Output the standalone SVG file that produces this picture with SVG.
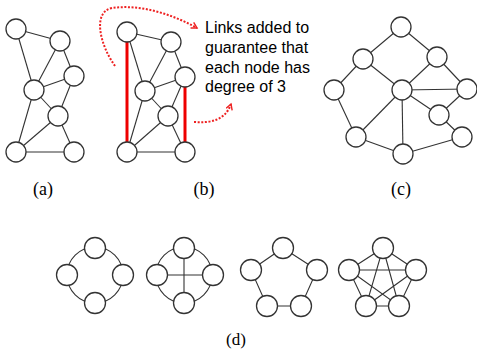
<svg xmlns="http://www.w3.org/2000/svg" width="477" height="355" viewBox="0 0 477 355">
<defs>
<style>
.e{stroke:#333;stroke-width:1.1;fill:none}
.n{fill:#fff;stroke:#333;stroke-width:1.3}
.red{stroke:#e00;stroke-width:3;fill:none}
.dot{stroke:#e22;stroke-width:2;stroke-dasharray:2 1.6;fill:none}
.lbl{font-family:"Liberation Serif","Times New Roman",serif;font-size:18px;fill:#000;text-anchor:middle}
.txt{font-family:"Liberation Sans",Arial,sans-serif;font-size:16px;fill:#000}
</style>
<marker id="ah" viewBox="0 0 10 10" refX="8" refY="5" markerWidth="8" markerHeight="8" orient="auto" markerUnits="userSpaceOnUse">
<path d="M1,1 L8,5 L1,9" fill="none" stroke="#e22" stroke-width="1.8"/>
</marker>
</defs>
<rect width="477" height="355" fill="#fff"/>

<g id="connectors">
<!-- (a) -->
<g class="e">
<line x1="16" y1="29" x2="60" y2="41"/>
<line x1="16" y1="29" x2="34" y2="90"/>
<line x1="60" y1="41" x2="34" y2="90"/>
<line x1="60" y1="41" x2="74" y2="76"/>
<line x1="74" y1="76" x2="34" y2="90"/>
<line x1="74" y1="76" x2="58" y2="116"/>
<line x1="34" y1="90" x2="58" y2="116"/>
<line x1="34" y1="90" x2="16" y2="152"/>
<line x1="58" y1="116" x2="16" y2="152"/>
<line x1="58" y1="116" x2="74" y2="152"/>
<line x1="16" y1="152" x2="74" y2="152"/>
</g>
<!-- (b) -->
<g class="e">
<line x1="127" y1="32" x2="171" y2="42"/>
<line x1="127" y1="32" x2="145" y2="91"/>
<line x1="171" y1="42" x2="145" y2="91"/>
<line x1="171" y1="42" x2="185" y2="77"/>
<line x1="185" y1="77" x2="145" y2="91"/>
<line x1="185" y1="77" x2="168" y2="116"/>
<line x1="145" y1="91" x2="168" y2="116"/>
<line x1="145" y1="91" x2="127" y2="152"/>
<line x1="168" y1="116" x2="127" y2="152"/>
<line x1="168" y1="116" x2="185" y2="152"/>
<line x1="127" y1="152" x2="185" y2="152"/>
</g>
<line class="red" x1="127" y1="32" x2="127" y2="152"/>
<line class="red" x1="185" y1="77" x2="185" y2="152"/>
<path class="dot" d="M115,66 C100,45 92,12 112,8 C140,4 172,14 197,28" marker-end="url(#ah)"/>
<path class="dot" d="M194,122 C210,123 225,121 231,104" marker-end="url(#ah)"/>
<!-- (c) -->
<g class="e">
<line x1="401" y1="27" x2="363" y2="59"/>
<line x1="401" y1="27" x2="437" y2="57"/>
<line x1="363" y1="59" x2="334" y2="90"/>
<line x1="363" y1="59" x2="402" y2="90"/>
<line x1="437" y1="57" x2="402" y2="90"/>
<line x1="437" y1="57" x2="467" y2="89"/>
<line x1="402" y1="90" x2="467" y2="89"/>
<line x1="467" y1="89" x2="439" y2="115"/>
<line x1="402" y1="90" x2="439" y2="115"/>
<line x1="439" y1="115" x2="462" y2="137"/>
<line x1="334" y1="90" x2="356" y2="137"/>
<line x1="356" y1="137" x2="402" y2="90"/>
<line x1="402" y1="90" x2="403" y2="154"/>
<line x1="356" y1="137" x2="403" y2="154"/>
<line x1="403" y1="154" x2="462" y2="137"/>
</g>
<!-- (d) -->
<g class="e">
<circle cx="95" cy="275" r="28"/>
<circle cx="184" cy="275" r="28"/>
<line x1="184" y1="248" x2="184" y2="303"/>
<line x1="157" y1="275" x2="213" y2="275"/>
<polygon points="283,248 317,270 301,306 267,306 251,270"/>
<polygon points="383,248 416,270 399,306 366,306 349,270"/>
<polygon points="383,248 399,306 349,270 416,270 366,306"/>
</g>
</g>

<g id="graph-a">
<circle class="n" cx="16" cy="29" r="10"/>
<circle class="n" cx="60" cy="41" r="10"/>
<circle class="n" cx="74" cy="76" r="10"/>
<circle class="n" cx="34" cy="90" r="10"/>
<circle class="n" cx="58" cy="116" r="10"/>
<circle class="n" cx="16" cy="152" r="10"/>
<circle class="n" cx="74" cy="152" r="10"/>
</g>
<g id="graph-b">
<circle class="n" cx="127" cy="32" r="10"/>
<circle class="n" cx="171" cy="42" r="10"/>
<circle class="n" cx="185" cy="77" r="10"/>
<circle class="n" cx="145" cy="91" r="10"/>
<circle class="n" cx="168" cy="116" r="10"/>
<circle class="n" cx="127" cy="152" r="10"/>
<circle class="n" cx="185" cy="152" r="10"/>
</g>
<g id="note">
<text class="txt" x="205" y="33">Links added to</text>
<text class="txt" x="205" y="53">guarantee that</text>
<text class="txt" x="205" y="73">each node has</text>
<text class="txt" x="205" y="92">degree of 3</text>
</g>
<g id="graph-c">
<circle class="n" cx="401" cy="27" r="10"/>
<circle class="n" cx="363" cy="59" r="10"/>
<circle class="n" cx="437" cy="57" r="10"/>
<circle class="n" cx="334" cy="90" r="10"/>
<circle class="n" cx="402" cy="90" r="10"/>
<circle class="n" cx="467" cy="89" r="10"/>
<circle class="n" cx="439" cy="115" r="10"/>
<circle class="n" cx="356" cy="137" r="10"/>
<circle class="n" cx="462" cy="137" r="10"/>
<circle class="n" cx="403" cy="154" r="10"/>
</g>
<g id="graph-d1">
<circle class="n" cx="95" cy="248" r="10.5"/>
<circle class="n" cx="67" cy="275" r="10.5"/>
<circle class="n" cx="123" cy="275" r="10.5"/>
<circle class="n" cx="95" cy="303" r="10.5"/>
</g>
<g id="graph-d2">
<circle class="n" cx="184" cy="248" r="10.5"/>
<circle class="n" cx="157" cy="275" r="10.5"/>
<circle class="n" cx="213" cy="275" r="10.5"/>
<circle class="n" cx="184" cy="303" r="10.5"/>
</g>
<g id="graph-d3">
<circle class="n" cx="283" cy="248" r="10.5"/>
<circle class="n" cx="251" cy="270" r="10.5"/>
<circle class="n" cx="317" cy="270" r="10.5"/>
<circle class="n" cx="267" cy="306" r="10.5"/>
<circle class="n" cx="301" cy="306" r="10.5"/>
</g>
<g id="graph-d4">
<circle class="n" cx="383" cy="248" r="10.5"/>
<circle class="n" cx="349" cy="270" r="10.5"/>
<circle class="n" cx="416" cy="270" r="10.5"/>
<circle class="n" cx="366" cy="306" r="10.5"/>
<circle class="n" cx="399" cy="306" r="10.5"/>
</g>
<g id="labels">
<text class="lbl" x="43" y="195">(a)</text>
<text class="lbl" x="204" y="195">(b)</text>
<text class="lbl" x="401" y="195">(c)</text>
<text class="lbl" x="236" y="345" style="font-size:17px">(d)</text>
</g>
</svg>
